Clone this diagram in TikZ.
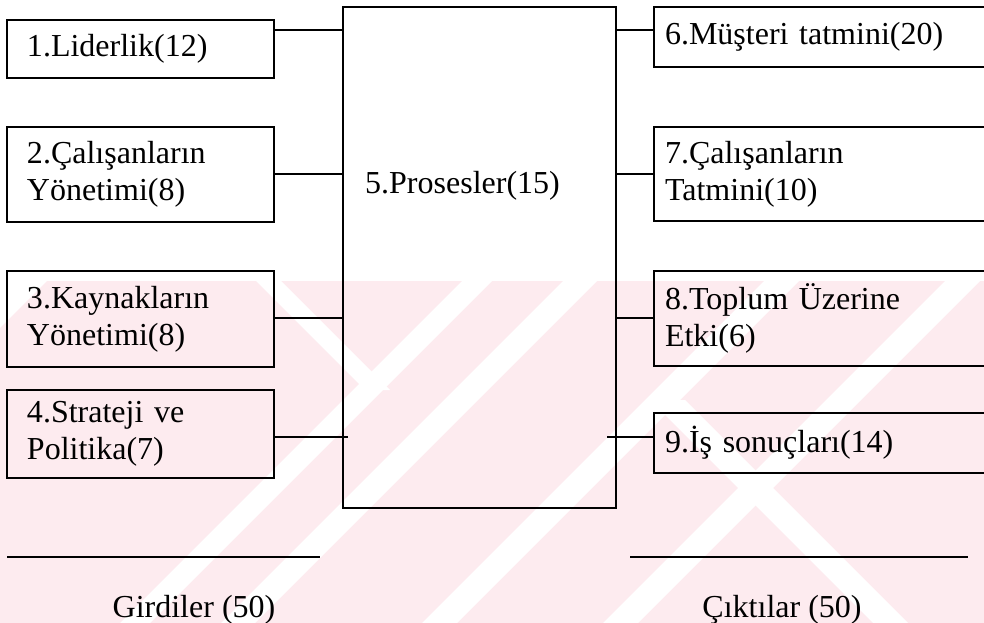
\documentclass[tikz,border=0pt]{standalone}
\usepackage{fontspec}
\setmainfont{Liberation Serif}
\definecolor{wm}{RGB}{253,235,239}
\begin{document}
\begin{tikzpicture}[x=1pt,y=-1pt,
  every node/.style={font=\fontsize{32}{37}\selectfont},
  lbox/.style={draw, line width=2.5pt, rectangle, inner ysep=0pt, inner xsep=20pt, text width=227pt, minimum width=267pt, align=left},
  rbox/.style={draw, line width=2.5pt, rectangle, inner ysep=0pt, inner xsep=11pt, text width=328pt, minimum width=350pt, align=left},
  conn/.style={line width=2.5pt}]
\useasboundingbox (0,0) rectangle (984,623);
\clip (0,0) rectangle (984,623);
% watermark
\begin{scope}
\clip (47,281) -- (984,281) -- (984,623) -- (0,623) -- (0,328) -- cycle;
\fill[wm] (0,281) rectangle (984,623);
\fill[white] (462,281) -- (492,281) -- (150,623) -- (120,623) -- cycle;
\fill[white] (563,281) -- (597,281) -- (255,623) -- (221,623) -- cycle;
\fill[white] (764,281) -- (799,281) -- (457,623) -- (422,623) -- cycle;
\fill[white] (945,281) -- (980,281) -- (638,623) -- (603,623) -- cycle;
\fill[white] (256,281) -- (281,281) -- (390,390) -- (365,390) -- cycle;
\fill[white] (650,400) -- (685,400) -- (908,623) -- (873,623) -- cycle;
\end{scope}
% boxes
\node[lbox, minimum height=58pt] (b1) at (140.5,49) {1.Liderlik(12)};
\node[lbox, minimum height=95pt] (b2) at (140.5,174.5) {2.Çalışanların\\Yönetimi(8)};
\node[lbox, minimum height=96pt] (b3) at (140.5,319) {3.Kaynakların\\Yönetimi(8)};
\node[lbox, minimum height=88pt] (b4) at (140.5,434) {4.Strateji ve\\Politika(7)};
\node[draw, line width=2.5pt, rectangle, minimum width=273pt, minimum height=501pt] (proc) at (479.5,257.5) {};
\node[anchor=base west, inner sep=0pt] (ptxt) at (365,193) {5.Prosesler(15)};
\node[rbox, minimum height=60pt] (b6) at (829,37) {6.Müşteri tatmini(20)};
\node[rbox, minimum height=94pt] (b7) at (829,174) {7.Çalışanların\\Tatmini(10)};
\node[rbox, minimum height=95pt] (b8) at (829,318.5) {8.Toplum Üzerine\\Etki(6)};
\node[rbox, minimum height=60pt] (b9) at (829,443) {9.İş sonuçları(14)};
% connector levels
\coordinate (y30) at (0,30);
\coordinate (y174) at (0,174);
\coordinate (y318) at (0,318);
\coordinate (y437) at (0,437);
\coordinate (c4end) at (348,437);
\coordinate (c9start) at (607,437);
\draw[conn] (b1.east |- y30) -- (proc.west |- y30);
\draw[conn] (b2.east |- y174) -- (proc.west |- y174);
\draw[conn] (b3.east |- y318) -- (proc.west |- y318);
\draw[conn] (b4.east |- y437) -- (c4end);
\draw[conn] (proc.east |- y30) -- (b6.west |- y30);
\draw[conn] (proc.east |- y174) -- (b7.west |- y174);
\draw[conn] (proc.east |- y318) -- (b8.west |- y318);
\draw[conn] (c9start) -- (b9.west |- y437);
% bottom
\coordinate (la) at (7,557);
\coordinate (lb) at (320,557);
\coordinate (ra) at (630,557);
\coordinate (rb) at (968,557);
\draw[conn] (la) -- (lb);
\draw[conn] (ra) -- (rb);
\node[anchor=base, inner sep=0pt] (gir) at (194,617) {Girdiler (50)};
\node[anchor=base, inner sep=0pt] (cik) at (782,617) {Çıktılar (50)};
\end{tikzpicture}
\end{document}
